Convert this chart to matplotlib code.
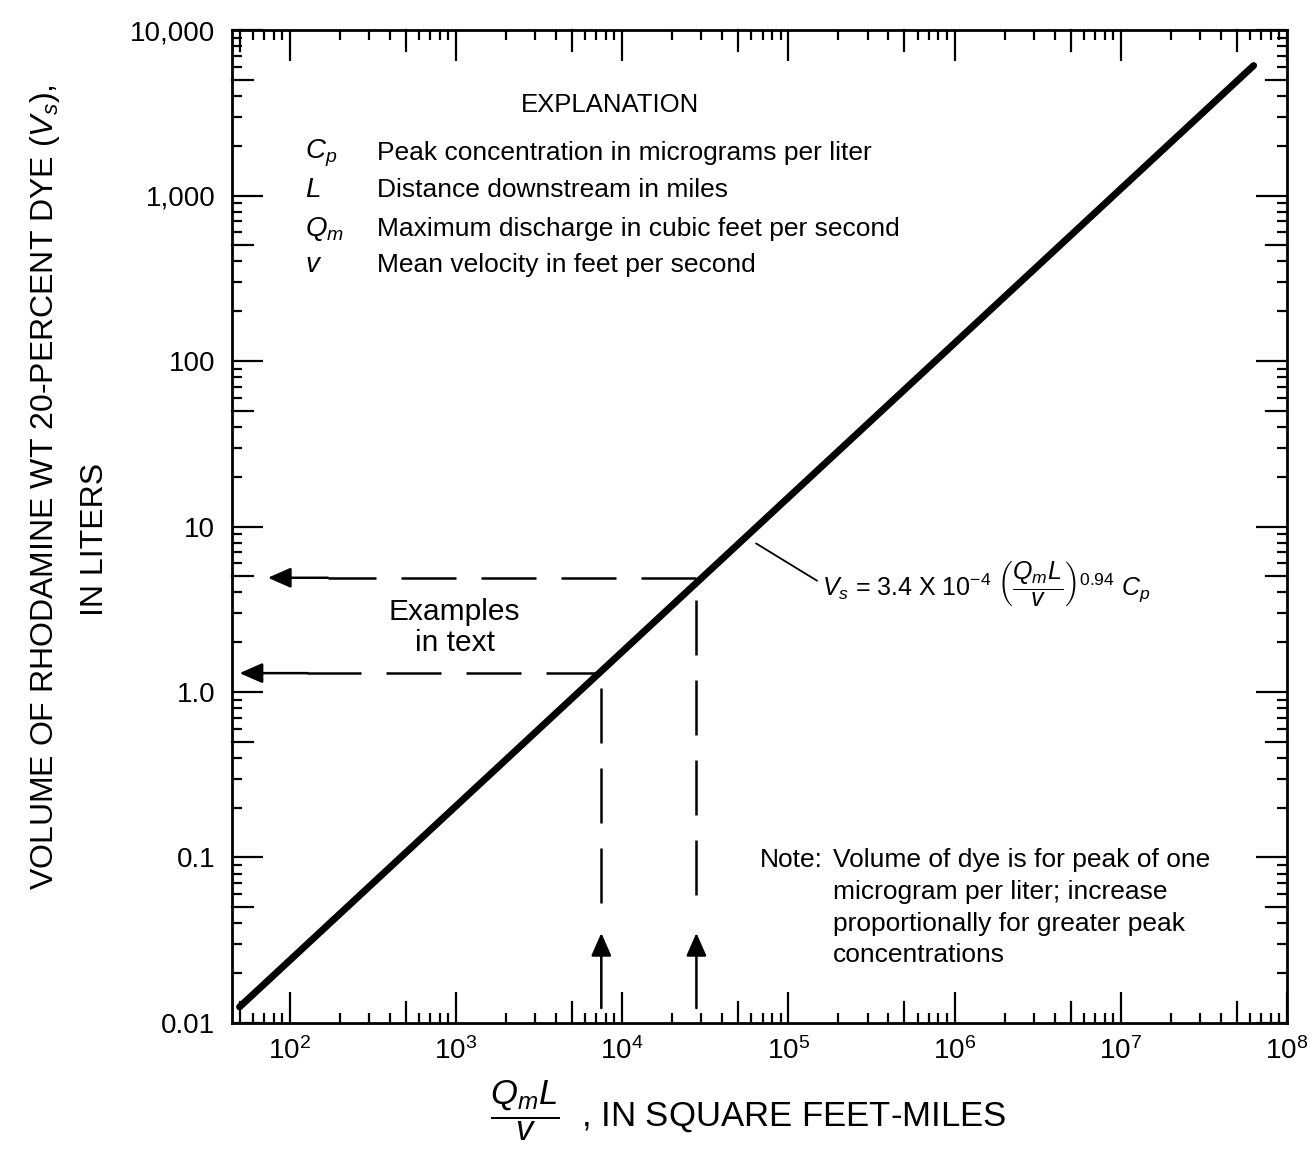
import numpy as np
import matplotlib
matplotlib.use("Agg")
import matplotlib.pyplot as plt
from matplotlib.ticker import LogLocator, NullFormatter, FixedLocator, FixedFormatter

plt.rcParams['font.family'] = ['Liberation Sans', 'DejaVu Sans']
plt.rcParams['mathtext.fontset'] = 'custom'
plt.rcParams['mathtext.rm'] = 'Liberation Sans'
plt.rcParams['mathtext.it'] = 'Liberation Sans:italic'
plt.rcParams['mathtext.bf'] = 'Liberation Sans:bold'

# relation line, read at its two ends
line_x = [50, 6.3e7]
line_y = [0.0125, 6100]

# worked examples in the text
ex_x = [7500, 28000]
ex_y = [1.3, 4.9]
ex_tip_x = [50, 74]        # where horizontal arrows end
ex_tail_x = [128, 170]     # where solid arrow shaft begins
ex_vert_top = [1.05, 3.6]
ex_vert_low = [0.042, 0.045]
arrow_base_y = 0.0123
arrow_tip_y = 0.035

x_ticks = [1e2, 1e3, 1e4, 1e5, 1e6, 1e7, 1e8]
x_labels = [r'$10^{2}$', r'$10^{3}$', r'$10^{4}$', r'$10^{5}$', r'$10^{6}$', r'$10^{7}$', r'$10^{8}$']
y_ticks = [0.01, 0.1, 1, 10, 100, 1000, 10000]
y_labels = ['0.01', '0.1', '1.0', '10', '100', '1,000', '10,000']
x_fives = [5e1, 5e2, 5e3, 5e4, 5e5, 5e6, 5e7]
y_fives = [0.05, 0.5, 5, 50, 500, 5000]

expl_syms = [r'$C_p$', r'$L$', r'$Q_m$', r'$v$']
expl_text = ['Peak concentration in micrograms per liter',
             'Distance downstream in miles',
             'Maximum discharge in cubic feet per second',
             'Mean velocity in feet per second']

note_lines = ['Volume of dye is for peak of one',
              'microgram per liter; increase',
              'proportionally for greater peak',
              'concentrations']

fig = plt.figure(figsize=(13.15, 11.73), dpi=100)
ax = fig.add_axes([0.1764, 0.1279, 0.8023, 0.8465])
ax.set_xscale('log')
ax.set_yscale('log')
ax.set_xlim(45, 1e8)
ax.set_ylim(0.01, 1e4)

for s in ax.spines.values():
    s.set_linewidth(2)

ax.plot(line_x, line_y, color='k', lw=5, solid_capstyle='round')

# example dashed lines with arrows
dash = dict(color='k', lw=1.8, dashes=(22, 10))
aprops = dict(arrowstyle='-|>,head_length=0.5,head_width=0.22', color='k', lw=1.8,
              mutation_scale=28, shrinkA=0, shrinkB=0)
for i in range(2):
    ax.plot([ex_x[i], ex_tail_x[i]], [ex_y[i], ex_y[i]], **dash)
    ax.annotate('', xy=(ex_tip_x[i], ex_y[i]), xytext=(ex_tail_x[i], ex_y[i]), arrowprops=aprops)
    ax.plot([ex_x[i], ex_x[i]], [ex_vert_top[i], ex_vert_low[i]], **dash)
    ax.annotate('', xy=(ex_x[i], arrow_tip_y), xytext=(ex_x[i], arrow_base_y), arrowprops=aprops)

# ticks
ax.xaxis.set_major_locator(FixedLocator(x_ticks))
ax.xaxis.set_major_formatter(FixedFormatter(x_labels))
ax.yaxis.set_major_locator(FixedLocator(y_ticks))
ax.yaxis.set_major_formatter(FixedFormatter(y_labels))
for axis in [ax.xaxis, ax.yaxis]:
    axis.set_minor_locator(LogLocator(base=10, subs=[2, 3, 4, 6, 7, 8, 9], numticks=50))
    axis.set_minor_formatter(NullFormatter())
ax.tick_params(which='both', direction='in', top=True, right=True, width=1.6, labelsize=20)
ax.tick_params(which='major', length=22)
ax.tick_params(which='minor', length=7)
ax.tick_params(axis='y', pad=12)
ax.tick_params(axis='x', pad=10)

# medium-length ticks at the fives, on all four sides
fx = 0.021   # tick length as a fraction of the axes height
fy = 0.0197  # and of its width
for v in x_fives:
    ax.plot([v, v], [0, fx], transform=ax.get_xaxis_transform(), color='k', lw=1.6, clip_on=False)
    ax.plot([v, v], [1, 1 - fx], transform=ax.get_xaxis_transform(), color='k', lw=1.6, clip_on=False)
for v in y_fives:
    ax.plot([0, fy], [v, v], transform=ax.get_yaxis_transform(), color='k', lw=1.6, clip_on=False)
    ax.plot([1, 1 - fy], [v, v], transform=ax.get_yaxis_transform(), color='k', lw=1.6, clip_on=False)

# explanation
ax.text(0.358, 0.924, 'EXPLANATION', transform=ax.transAxes, ha='center', va='center', fontsize=18.5)
rows_y = [0.876, 0.839, 0.800, 0.763]
for sym, txt, yy in zip(expl_syms, expl_text, rows_y):
    ax.text(0.069, yy, sym, transform=ax.transAxes, ha='left', va='center', fontsize=20)
    ax.text(0.137, yy, txt, transform=ax.transAxes, ha='left', va='center', fontsize=19)

# note
ax.text(0.500, 0.164, 'Note:', transform=ax.transAxes, ha='left', va='center', fontsize=19)
for k, ln in enumerate(note_lines):
    ax.text(0.570, 0.164 - k * 0.032, ln, transform=ax.transAxes, ha='left', va='center', fontsize=19)

ax.text(0.211, 0.398, 'Examples\nin text', transform=ax.transAxes, ha='center', va='center',
        fontsize=21.5, linespacing=1.15)

# formula with leader
ax.annotate(r'$V_s$ = 3.4 X 10$^{-4}$ $\left(\dfrac{Q_mL}{v}\right)^{0.94}$ $C_p$',
            xy=(6.4e4, 7.9), xytext=(1.6e5, 4.5), ha='left', va='center', fontsize=18,
            arrowprops=dict(arrowstyle='-', color='k', lw=1.3, relpos=(0, 0.5), shrinkA=2, shrinkB=0))

# axis labels
fig.text(0.034, 0.585, r'VOLUME OF RHODAMINE WT 20-PERCENT DYE ($V_s$),', rotation=90,
         ha='center', va='center', fontsize=23)
fig.text(0.072, 0.540, 'IN LITERS', rotation=90, ha='center', va='center', fontsize=23)
fig.text(0.569, 0.053, r'$\dfrac{Q_mL}{v}$  , IN SQUARE FEET-MILES', ha='center', va='center', fontsize=25)

fig.savefig('out.png', dpi=100)
